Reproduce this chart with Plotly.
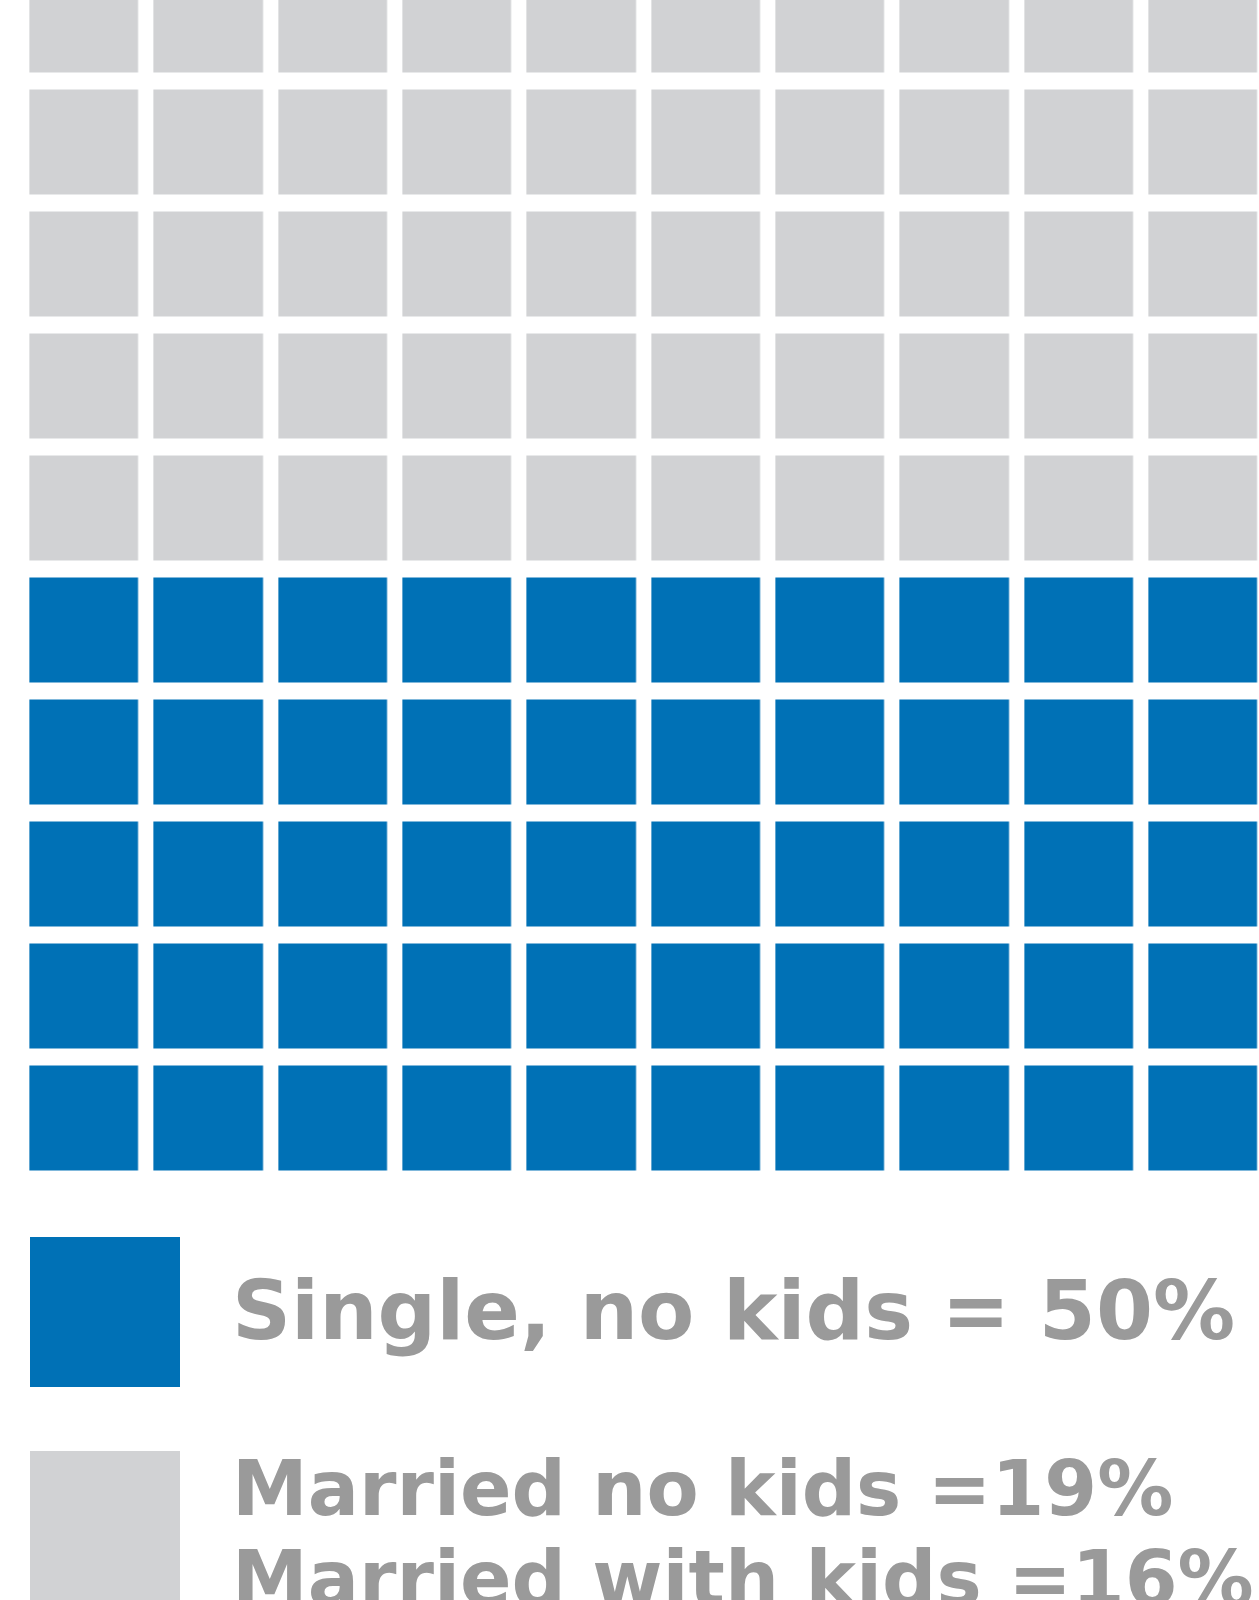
import plotly.graph_objects as go

# Household make-up shares
categories = ["Single, no kids", "Married no kids", "Married with kids"]
percents = [50, 19, 16]
separators = [" = ", " =", " ="]

# Waffle grid: 10 x 10 = 100 squares, one per percent
grid_cols = 10
grid_rows = 10
highlight_cells = percents[0]  # squares coloured for "Single, no kids"

BLUE = "#0071B6"
GREY = "#D1D2D4"
TEXT = "#9A9A9A"

W, H = 1259, 1600

# Fill the grid from the bottom row up with the highlighted category
z = []
for r in range(grid_rows):
    row = []
    for c in range(grid_cols):
        idx_from_bottom = (grid_rows - 1 - r) * grid_cols + c
        row.append(1 if idx_from_bottom < highlight_cells else 0)
    z.append(row)

fig = go.Figure(
    go.Heatmap(
        z=z,
        x=list(range(grid_cols)),
        y=list(range(grid_rows)),
        colorscale=[[0, GREY], [0.5, GREY], [0.5, BLUE], [1, BLUE]],
        zmin=0,
        zmax=1,
        showscale=False,
        xgap=15.3,
        ygap=17,
        hoverinfo="skip",
    )
)

# pixel geometry of the grid
col_pitch, row_pitch = 124.33, 122.0
col0_center, row0_center = 84.5, 20.5

fig.update_xaxes(
    range=[-col0_center / col_pitch, (W - col0_center) / col_pitch],
    visible=False, showgrid=False, zeroline=False, fixedrange=True,
)
fig.update_yaxes(
    range=[(H - row0_center) / row_pitch, -row0_center / row_pitch],
    visible=False, showgrid=False, zeroline=False, fixedrange=True,
)


def py(px):
    return 1 - px / H


def pxx(px):
    return px / W


# legend swatches
swatches = [(BLUE, 1237, 1387), (GREY, 1451, 1601)]
for color, top, bottom in swatches:
    fig.add_shape(
        type="rect", xref="paper", yref="paper",
        x0=pxx(30), x1=pxx(180), y0=py(bottom), y1=py(top),
        fillcolor=color, line_width=0, layer="above",
    )

labels = [f"{c}{s}{p}%" for c, s, p in zip(categories, separators, percents)]
label_pos = [(1310, 82), (1488, 76), (1578, 76)]
for text, (ymid, size) in zip(labels, label_pos):
    fig.add_annotation(
        x=pxx(230), y=py(ymid), xref="paper", yref="paper",
        xanchor="left", yanchor="middle", showarrow=False,
        text=text,
        font=dict(family="DejaVu Sans", size=size, color=TEXT, weight="bold"),
    )

fig.update_layout(
    width=W, height=H,
    margin=dict(l=0, r=0, t=0, b=0),
    paper_bgcolor="white", plot_bgcolor="white",
    showlegend=False,
)

fig.write_html("out.html")
